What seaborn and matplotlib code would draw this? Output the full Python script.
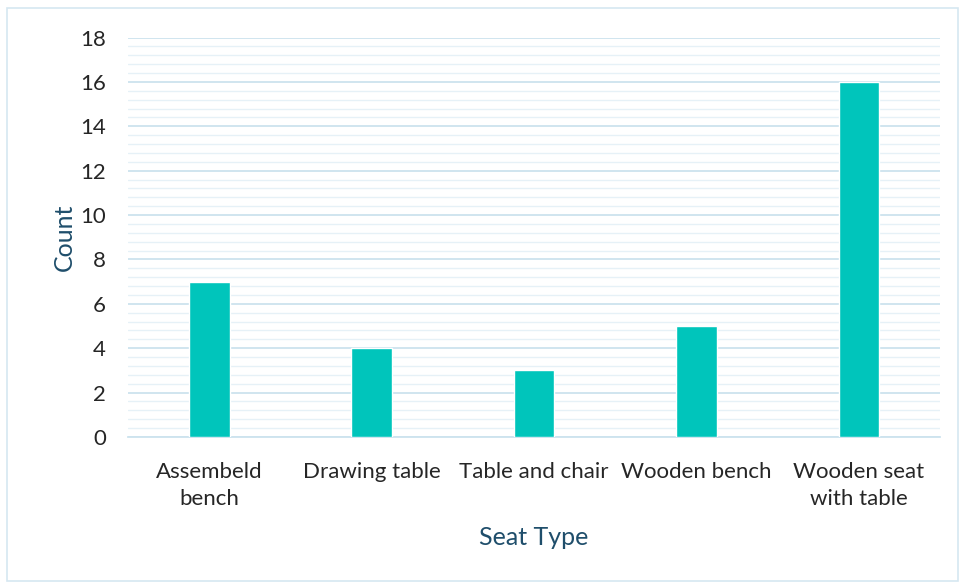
import matplotlib
matplotlib.use("Agg")
import matplotlib.pyplot as plt
from matplotlib.patches import Rectangle
from matplotlib.ticker import MultipleLocator
import seaborn as sns
import pandas as pd

seat_types = ["Assembeld\nbench", "Drawing table", "Table and chair",
              "Wooden bench", "Wooden seat\nwith table"]
counts = [7, 4, 3, 5, 16]

df = pd.DataFrame({"Seat Type": seat_types, "Count": counts})

sns.set_theme(style="white")
plt.rcParams["font.family"] = ["Lato", "DejaVu Sans"]

fig = plt.figure(figsize=(9.63, 5.82), dpi=100)
ax = fig.add_axes([128 / 963, 1 - 437 / 582, 812 / 963, 399.5 / 582])

# light frame around the whole chart
fig.patches.append(Rectangle((7 / 963, 1 / 582), 951 / 963, 573 / 582,
                             transform=fig.transFigure, fill=False,
                             edgecolor="#d6e7f1", linewidth=1.2))

sns.barplot(data=df, x="Seat Type", y="Count", color="#00c5bb",
            width=0.25, saturation=1, ax=ax, zorder=3)

ax.set_xlim(-0.5, 4.5)
ax.set_ylim(0, 18)
ax.yaxis.set_major_locator(MultipleLocator(2))
ax.yaxis.set_minor_locator(MultipleLocator(0.4))
ax.grid(which="major", axis="y", color="#cde3ee", linewidth=1.3, zorder=0)
ax.grid(which="minor", axis="y", color="#e6f1f7", linewidth=1.0, zorder=0)
ax.set_axisbelow(True)
for s in ["top", "right", "left"]:
    ax.spines[s].set_visible(False)
ax.spines["bottom"].set_color("#cde3ee")
ax.spines["bottom"].set_linewidth(1.3)

ax.tick_params(axis="both", which="both", length=0)
ax.tick_params(axis="y", pad=16, labelsize=16, labelcolor="#262626")
ax.tick_params(axis="x", pad=18, labelsize=16, labelcolor="#262626")
for lbl in ax.get_xticklabels():
    lbl.set_linespacing(1.45)

ax.set_xlabel("Seat Type", fontsize=18, color="#1f4e6b", labelpad=12)
ax.set_ylabel("Count", fontsize=18, color="#1f4e6b", labelpad=3)

fig.savefig("out.png", dpi=100, facecolor="white")
